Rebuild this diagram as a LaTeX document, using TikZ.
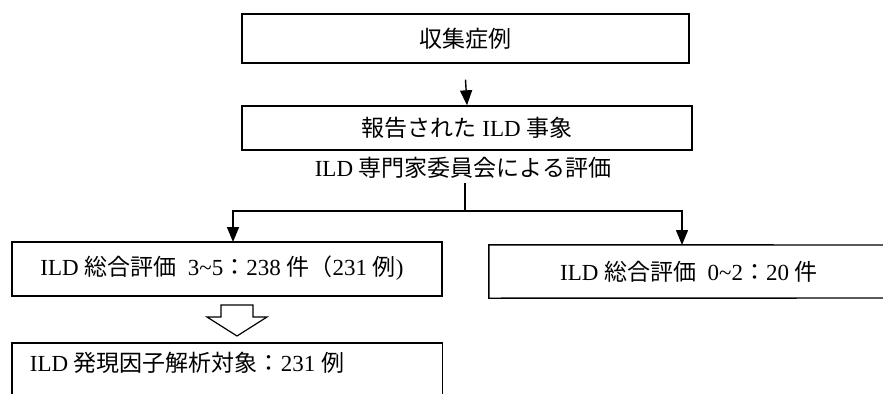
\documentclass[tikz,border=0pt]{standalone}
\usepackage{fontspec}
\setmainfont{Liberation Serif}
\newfontfamily\cjk{Noto Sans CJK JP}
\usetikzlibrary{arrows.meta}
\newcommand\jp[1]{{\cjk #1}}
\begin{document}
\begin{tikzpicture}[x=1pt,y=-1pt,
  txt/.style={font=\fontsize{23}{27}\selectfont, inner sep=0pt},
  boxnode/.style={draw, line width=1.4pt, inner sep=0pt, txt},
  area/.style={inner sep=0pt, txt},
  side/.style={line width=1.4pt},
  arr/.style={line width=1.4pt, -{Triangle[width=12pt,length=15pt]}},
  conn/.style={line width=1.4pt}]
\useasboundingbox (0,0) rectangle (883,394);
% boxes
\node[boxnode, minimum width=447pt, minimum height=49pt] (b1) at (465.5,38.5) {\jp{収集症例}};
\node[boxnode, minimum width=450pt, minimum height=44pt] (b2) at (467,128) {\jp{報告された} ILD \jp{事象}};
\node[area] (lab) at (463,168) {ILD \jp{専門家委員会による評価}};
\node[boxnode, minimum width=430pt, minimum height=54pt] (lb) at (227,269) {};
\node[area] (lbt) at (222,268) {ILD \jp{総合評価}\ \ 3\textasciitilde5\jp{：}238 \jp{件（}231 \jp{例})};
\node[area, minimum width=400pt, minimum height=53pt] (rb) at (689,271.5) {ILD \jp{総合評価}\ \ 0\textasciitilde2\jp{：}20 \jp{件}};
\draw[side] (883,245) -- (rb.north west) -- (rb.south west) -- (883,298);
\node[area, minimum width=430pt, minimum height=51pt] (bb) at (227,368.5) {};
\node[area] (bbt) at (187,363) {ILD \jp{発現因子解析対象：}231 \jp{例}};
\draw[side] (bb.south west) -- (bb.north west) -- (bb.north east) -- (bb.south east);
% connectors
\coordinate (split) at (465,211);
\coordinate (lt) at (233,242);
\coordinate (rt) at (682,245);
\draw[arr] (b1.south) ++(0,16) coordinate (a1) (a1) -- (b2.north);
\draw[conn] (lab.south -| split) ++(0,4) coordinate (s0) (s0) -- (split);
\draw[arr] (split) -| (lt);
\draw[arr] (split) -| (rt);
% hollow arrow
\draw[line width=1.2pt, line join=miter] (221,305) -- (253,305) -- (253,317) -- (267,317) -- (237,336) -- (207,317) -- (221,317) -- cycle;
\end{tikzpicture}
\end{document}
